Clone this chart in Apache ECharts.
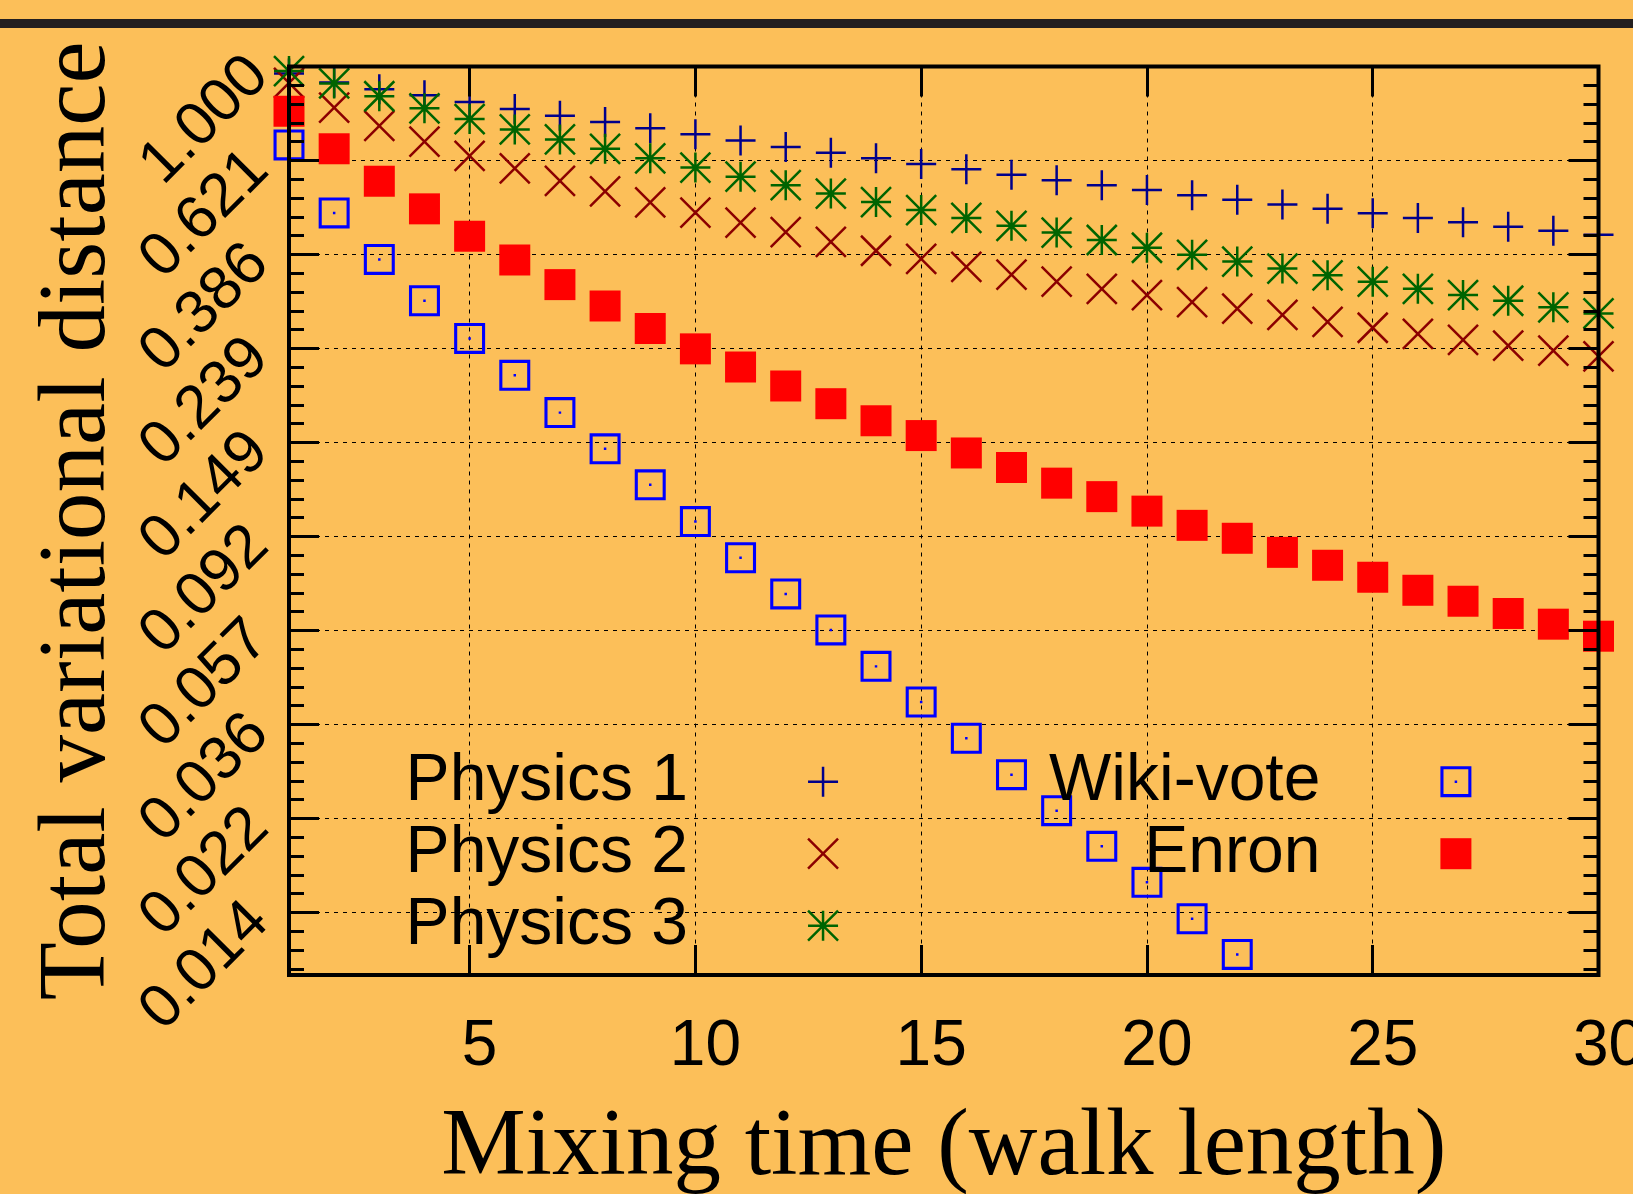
<!DOCTYPE html>
<html>
<head>
<meta charset="utf-8">
<title>Total variational distance vs mixing time</title>
<script src="https://cdn.jsdelivr.net/npm/echarts@6/dist/echarts.min.js"></script>
<style>
  html, body { margin: 0; padding: 0; background: #fcbf59; }
  #chart { width: 1633px; height: 1194px; }
</style>
</head>
<body>
<div id="chart"></div>
<script>
// walk length (x) against total variational distance (y, log scale)
var walkLength = [1, 2, 3, 4, 5, 6, 7, 8, 9, 10, 11, 12, 13, 14, 15,
                  16, 17, 18, 19, 20, 21, 22, 23, 24, 25, 26, 27, 28, 29, 30];
var physics1 = [0.965, 0.922, 0.891, 0.864, 0.835, 0.806, 0.779, 0.755, 0.731, 0.709,
                0.687, 0.665, 0.646, 0.628, 0.610, 0.594, 0.578, 0.562, 0.548, 0.535,
                0.521, 0.509, 0.497, 0.486, 0.475, 0.464, 0.454, 0.444, 0.435, 0.426];
var physics2 = [0.920, 0.812, 0.740, 0.683, 0.636, 0.597, 0.560, 0.531, 0.502, 0.477,
                0.453, 0.432, 0.411, 0.393, 0.377, 0.362, 0.348, 0.336, 0.324, 0.314,
                0.303, 0.293, 0.284, 0.274, 0.266, 0.258, 0.250, 0.243, 0.237, 0.230];
var physics3 = [0.977, 0.918, 0.860, 0.809, 0.766, 0.727, 0.691, 0.659, 0.628, 0.599,
                0.572, 0.548, 0.525, 0.503, 0.483, 0.464, 0.446, 0.431, 0.415, 0.399,
                0.385, 0.372, 0.359, 0.347, 0.336, 0.324, 0.314, 0.305, 0.295, 0.286];
// wiki-vote drops below the axis after walk length 22
var wikiVote = [0.672, 0.476, 0.376, 0.305, 0.252, 0.209, 0.173, 0.144, 0.120, 0.0996,
                0.0829, 0.0690, 0.0575, 0.0478, 0.0399, 0.0332, 0.0276, 0.0230, 0.0192, 0.0160,
                0.0133, 0.0111];
var enron = [0.797, 0.659, 0.559, 0.486, 0.423, 0.375, 0.331, 0.297, 0.265, 0.239,
             0.218, 0.198, 0.181, 0.166, 0.154, 0.141, 0.131, 0.121, 0.113, 0.105,
             0.0977, 0.0915, 0.0852, 0.0798, 0.0751, 0.0703, 0.0665, 0.0625, 0.0592, 0.0557];

var seriesNames = ["Physics 1", "Physics 2", "Physics 3", "Wiki-vote", "Enron"];

// y ticks are powers of 0.621 (1.000, 0.621, 0.386 ...)
var yTickRatio = 0.621;
var yMin = 0.01;
var yMax = 1;
var xMin = 1;
var xMax = 30;

var sans = "Liberation Sans";
var serif = "Liberation Serif";

var myChart = echarts.init(document.getElementById("chart"));

// minor ticks: 4 between each major tick, evenly spaced in log space
var steps = Math.log(yMax / yMin) / Math.log(1 / yTickRatio);
var minorTicks = [];
for (var k = 1; k * 0.2 < steps; k++) {
  if (k % 5 !== 0) minorTicks.push(-k * 0.2);
}

function pairs(ys) {
  return ys.map(function (y, i) { return [walkLength[i], y]; });
}

var plusPath = "path://M0,5L10,5M5,0L5,10";
var crossPath = "path://M0,0L10,10M10,0L0,10";
var starPath = "path://M0,5L10,5M5,0L5,10M0,0L10,10M10,0L0,10";
// hollow square with a dot in the middle
var boxDotPath = "path://M0,0L100,0L100,100L0,100Z M10,10L10,90L90,90L90,10Z M46,46L54,46L54,54L46,54Z";

var lineSymbol = function (name, path, color) {
  return {
    name: name,
    type: "scatter",
    clip: false,
    symbol: path,
    symbolSize: 30,
    itemStyle: { color: color, borderColor: color, borderWidth: 2.5, opacity: 1 },
    data: []
  };
};

var s1 = lineSymbol(seriesNames[0], plusPath, "#00008b");
s1.data = pairs(physics1);
var s2 = lineSymbol(seriesNames[1], crossPath, "#8b0000");
s2.data = pairs(physics2);
var s3 = lineSymbol(seriesNames[2], starPath, "#006400");
s3.data = pairs(physics3);

var s4 = {
  name: seriesNames[3],
  type: "scatter",
  clip: false,
  symbol: boxDotPath,
  symbolSize: 31,
  itemStyle: { color: "#0000ff", borderWidth: 0, opacity: 1 },
  data: pairs(wikiVote)
};
var s5 = {
  name: seriesNames[4],
  type: "scatter",
  clip: false,
  symbol: "rect",
  symbolSize: 31,
  itemStyle: { color: "#ff0000", borderWidth: 0, opacity: 1 },
  data: pairs(enron)
};

function tickLine() { return { color: "#000", width: 3 }; }
function noLine() { return { show: false, onZero: false }; }
function legendText() {
  return { fontFamily: sans, fontSize: 66, color: "#000", lineHeight: 60, padding: [0, 115, 0, 0] };
}

var option = {
  backgroundColor: "#fcbf59",
  animation: false,
  graphic: [
    { type: "rect", left: 0, top: 19, shape: { width: 1633, height: 9 }, style: { fill: "#231f20" } }
  ],
  grid: [
    {
      left: 289,
      right: 34.5,
      top: 66.5,
      bottom: 219,
      show: true,
      z: 6,
      backgroundColor: "transparent",
      borderColor: "#000",
      borderWidth: 4,
      containLabel: false,
      outerBoundsMode: "none"
    },
    {
      // thin strip along the top border: its split lines are the top tick marks
      left: 289,
      right: 34.5,
      top: 66.5,
      height: 30,
      show: false,
      containLabel: false,
      outerBoundsMode: "none"
    }
  ],
  legend: [
    {
      data: seriesNames.slice(0, 3),
      orient: "vertical",
      align: "right",
      right: 793.7,
      top: 748.7,
      padding: 0,
      itemWidth: 30,
      itemHeight: 30,
      itemGap: 6,
      selectedMode: false,
      itemStyle: { borderWidth: 2.5, opacity: 1 },
      textStyle: legendText()
    },
    {
      data: seriesNames.slice(3),
      orient: "vertical",
      align: "right",
      right: 161.6,
      top: 748.7,
      padding: 0,
      itemWidth: 31,
      itemHeight: 31,
      itemGap: 6,
      selectedMode: false,
      itemStyle: { opacity: 1 },
      textStyle: legendText()
    }
  ],
  xAxis: [
    {
      // bottom: labels, major ticks, title
      type: "value",
      gridIndex: 0,
      position: "bottom",
      min: xMin,
      max: xMax,
      z: 5,
      name: "Mixing time (walk length)",
      nameLocation: "middle",
      nameGap: 127,
      nameMoveOverlap: false,
      nameTextStyle: { fontFamily: serif, fontSize: 95, color: "#000" },
      axisLine: noLine(),
      axisTick: { inside: true, length: 30, lineStyle: tickLine() },
      splitLine: { show: false },
      axisLabel: {
        showMinLabel: false,
        showMaxLabel: true,
        hideOverlap: false,
        margin: 40,
        padding: [0, 0, 0, 20],
        fontFamily: sans,
        fontSize: 64,
        color: "#000"
      }
    },
    {
      // dashed grid behind the points
      type: "value",
      gridIndex: 0,
      position: "bottom",
      min: xMin,
      max: xMax,
      z: 0,
      axisLine: noLine(),
      axisTick: { show: false },
      axisLabel: { show: false },
      splitLine: { show: true, lineStyle: { color: "#000", width: 1, type: [4, 5] } }
    },
    {
      // top mirror ticks
      type: "value",
      gridIndex: 1,
      position: "top",
      min: xMin,
      max: xMax,
      z: 5,
      axisLine: noLine(),
      axisTick: { show: false },
      axisLabel: { show: false },
      splitLine: { show: true, lineStyle: tickLine() }
    }
  ],
  yAxis: [
    {
      // left: labels, major ticks, title
      type: "log",
      gridIndex: 0,
      logBase: 1 / yTickRatio,
      position: "left",
      min: yMin,
      max: yMax,
      splitNumber: 8,
      z: 5,
      name: "Total variational distance",
      nameLocation: "middle",
      nameGap: 162,
      nameRotate: 90,
      nameMoveOverlap: false,
      nameTextStyle: { fontFamily: serif, fontSize: 95, color: "#000" },
      axisLine: noLine(),
      axisTick: { inside: true, length: 30, lineStyle: tickLine() },
      splitLine: { show: false },
      axisLabel: {
        rotate: 45,
        margin: 30,
        showMinLabel: false,
        showMaxLabel: true,
        hideOverlap: false,
        fontFamily: sans,
        fontSize: 61,
        color: "#000",
        formatter: function (v) { return v.toFixed(3); }
      }
    },
    {
      // right mirror major ticks
      type: "log",
      gridIndex: 0,
      logBase: 1 / yTickRatio,
      position: "right",
      min: yMin,
      max: yMax,
      splitNumber: 8,
      z: 5,
      axisLine: noLine(),
      axisTick: { inside: true, length: 30, lineStyle: tickLine() },
      splitLine: { show: false },
      axisLabel: { show: false }
    },
    {
      // left minor ticks (log steps)
      type: "value",
      gridIndex: 0,
      position: "left",
      min: -steps,
      max: 0,
      z: 5,
      axisLine: noLine(),
      axisTick: { inside: true, length: 15, customValues: minorTicks, lineStyle: tickLine() },
      splitLine: { show: false },
      axisLabel: { show: false }
    },
    {
      // right minor ticks
      type: "value",
      gridIndex: 0,
      position: "right",
      min: -steps,
      max: 0,
      z: 5,
      axisLine: noLine(),
      axisTick: { inside: true, length: 15, customValues: minorTicks, lineStyle: tickLine() },
      splitLine: { show: false },
      axisLabel: { show: false }
    },
    {
      // dashed grid behind the points
      type: "log",
      gridIndex: 0,
      logBase: 1 / yTickRatio,
      position: "left",
      min: yMin,
      max: yMax,
      splitNumber: 8,
      z: 0,
      axisLine: noLine(),
      axisTick: { show: false },
      axisLabel: { show: false },
      splitLine: { show: true, lineStyle: { color: "#000", width: 1, type: [4, 5] } }
    },
    {
      // hidden companion axis for the top tick strip
      type: "value",
      gridIndex: 1,
      min: 0,
      max: 1,
      show: false
    }
  ],
  series: [s1, s2, s3, s4, s5]
};

myChart.setOption(option);
window.addEventListener("resize", function () {
  myChart.resize();
});
</script>
</body>
</html>
